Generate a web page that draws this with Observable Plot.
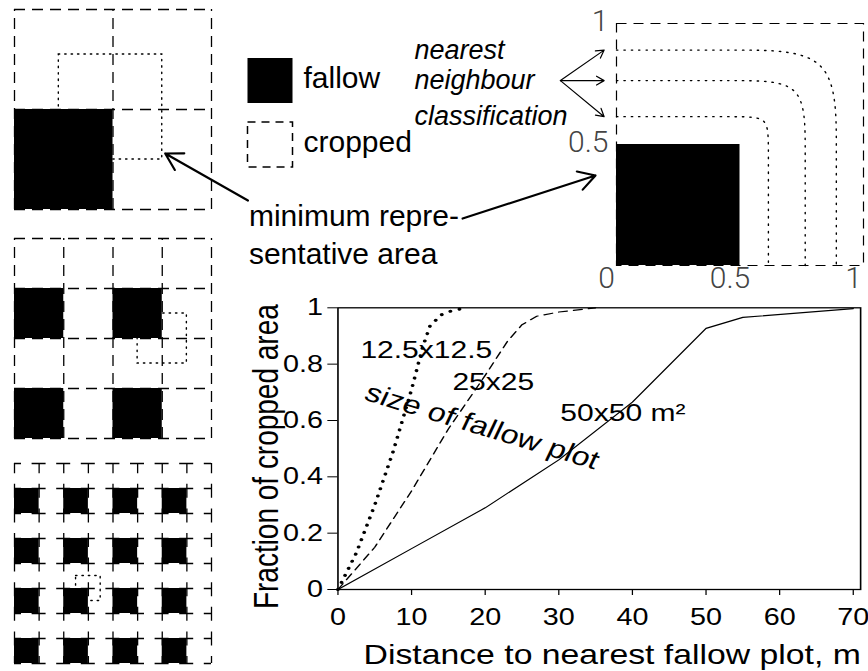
<!DOCTYPE html>
<html><head><meta charset="utf-8">
<script src="https://cdn.jsdelivr.net/npm/d3@7"></script>
<script src="https://cdn.jsdelivr.net/npm/@observablehq/plot@0.6"></script>
<style>
html,body{margin:0;padding:0;background:#fff;}
#fig{position:relative;width:868px;height:671px;overflow:hidden;background:#fff;}
.panel{position:absolute;}
</style></head><body><div id="fig"></div>
<script>
// ================= DATA =================
// main chart: fraction of cropped area vs distance to nearest fallow plot
const distance50 = [0, 10, 20, 30, 40, 50, 55, 70];
const fraction50 = [0, 0.145, 0.29, 0.46, 0.665, 0.927, 0.966, 0.997];
const distance25 = [0, 5, 10, 15, 20, 23, 25, 27, 30, 35];
const fraction25 = [0, 0.15, 0.35, 0.57, 0.76, 0.88, 0.94, 0.97, 0.985, 1];
const distance12 = [0, 2.5, 5, 7.5, 10, 11.5, 12.5, 14, 15.5, 17.5];
const fraction12 = [0, 0.13, 0.3, 0.49, 0.71, 0.86, 0.935, 0.975, 0.99, 1];
const plotSizeLabels = ["12.5x12.5", "25x25", "50x50 m²"];
const plotSizeLabelX = [12, 21.1, 38.7];
const plotSizeLabelY = [0.848, 0.734, 0.624];
const sizeNote = "size of fallow plot";
const sizeNoteX = 19.6, sizeNoteY = 0.578, sizeNoteAngle = 20.8;
const xTicks = [0, 10, 20, 30, 40, 50, 60, 70];
const yTicks = [0, 0.2, 0.4, 0.6, 0.8, 1];
const xTitle = "Distance to nearest fallow plot, m";
const yTitle = "Fraction of cropped area";

// left: field grids (cells in grid units, fallow cells as [col,row] from bottom-left)
const gridSizes = [2, 4, 8];
const gridLines = [[0, 1, 2], [0, 1, 2, 3, 4], [0, 1, 2, 3, 4, 5, 6, 7, 8]];
const fallowCells = [
  [[0, 0]],
  [[0, 0], [2, 0], [0, 2], [2, 2]],
  [[0, 0], [2, 0], [4, 0], [6, 0], [0, 2], [2, 2], [4, 2], [6, 2],
   [0, 4], [2, 4], [4, 4], [6, 4], [0, 6], [2, 6], [4, 6], [6, 6]]
];
const minAreas = [
  {x1: 0.45, x2: 1.5, y1: 0.5, y2: 1.55},
  {x1: 2.5, x2: 3.5, y1: 1.5, y2: 2.5},
  {x1: 2.5, x2: 3.5, y1: 2.5, y2: 3.5}
];
const minAreaText = ["minimum repre-", "sentative area"];
const minAreaTextY = [-0.16, -0.54];   // grid-1 units
const minAreaTextX = 2.38;
const minAreaArrowGrid = [{x1: 2.37, y1: 0.09, x2: 1.53, y2: 0.56}];

// legend
const legendItems = ["fallow", "cropped"];

// inset: unit square with fallow quarter and nearest-neighbour contours
const unitTicks = [0, 0.5, 1];
const insetYTicks = [0.5, 1];
const fallowSquare = [{x1: 0, x2: 0.5, y1: 0, y2: 0.5}];
const nnOffsets = [0.39, 0.264, 0.115];
const nnWords = ["nearest", "neighbour", "classification"];
const nnTextX = -0.818;
const nnArrowFrom = {x: -0.227, y: 0.764};
const nnArrowTipX = -0.05;
const minAreaArrowInset = [{x1: -0.623, y1: 0.194, x2: -0.085, y2: 0.372}];

// ================= HELPERS =================
const fig = document.getElementById("fig");
function place(node, left, top) {
  const wrap = document.createElement("div");
  wrap.className = "panel";
  wrap.style.left = left + "px";
  wrap.style.top = top + "px";
  wrap.appendChild(node);
  fig.appendChild(wrap);
}
const SANS = "'Liberation Sans', Arial, Helvetica, sans-serif";
const baseStyle = `background: transparent; overflow: visible; max-width: none; font-family: ${SANS}; color: black;`;

// ================= GRIDS =================
const gridTops = [0, 229, 454];
gridSizes.forEach((n, gi) => {
  const dash = gi === 2 ? "14,10.6" : "11,7";
  const offset = gi === 2 ? 7 : 0;
  const marks = [
    Plot.ruleX(gridLines[gi], {x: d => d, y1: 0, y2: n, stroke: "black", strokeWidth: 1.3, strokeDasharray: dash, strokeDashoffset: offset}),
    Plot.ruleY(gridLines[gi], {y: d => d, x1: 0, x2: n, stroke: "black", strokeWidth: 1.3, strokeDasharray: dash, strokeDashoffset: offset}),
    Plot.rect([minAreas[gi]], {x1: "x1", x2: "x2", y1: "y1", y2: "y2", fill: "none", stroke: "black", strokeWidth: 1.4, strokeDasharray: "1.4,5", strokeLinecap: "round"}),
    Plot.rect(fallowCells[gi], {x1: d => d[0], x2: d => d[0] + 1, y1: d => d[1], y2: d => d[1] + 1, fill: "black"})
  ];
  if (gi === 0) {
    marks.push(
      Plot.arrow(minAreaArrowGrid, {x1: "x1", y1: "y1", x2: "x2", y2: "y2", stroke: "black", strokeWidth: 2.2, headLength: 13, clip: false}),
      Plot.text(minAreaText, {x: minAreaTextX, y: (d, i) => minAreaTextY[i], text: d => d, textAnchor: "start", lineAnchor: "bottom", fontSize: 30, fill: "black", clip: false})
    );
  }
  const svg = Plot.plot({
    width: 260, height: 215,
    marginLeft: 14, marginRight: 49, marginTop: 9, marginBottom: 6,
    x: {domain: [0, n], axis: null},
    y: {domain: [0, n], axis: null},
    style: baseStyle,
    marks
  });
  place(svg, 0, gridTops[gi]);
});

// ================= LEGEND =================
{
  const svg = Plot.plot({
    width: 200, height: 150,
    marginLeft: 39.5, marginRight: 10, marginTop: 40, marginBottom: 46,
    x: {domain: [0, 1], axis: null},
    y: {type: "point", domain: legendItems, axis: null, padding: 0},
    style: baseStyle,
    marks: [
      Plot.dot(["fallow"], {x: 0, y: d => d, symbol: "square", r: 25.4, fill: "black"}),
      Plot.dot(["cropped"], {x: 0, y: d => d, symbol: "square", r: 25.4, fill: "white", stroke: "black", strokeWidth: 1.5, strokeDasharray: "8,6"}),
      Plot.text(legendItems, {x: 0, y: d => d, text: d => d, dx: 33.5, dy: -2, textAnchor: "start", lineAnchor: "middle", fontSize: 30, fill: "black"})
    ]
  });
  place(svg, 230, 40);
}

// ================= INSET =================
{
  const contourPts = nnOffsets.flatMap((d, k) => [
    {k, x: 0, y: 0.5 + d}, {k, x: 0.5, y: 0.5 + d}, {k, x: 0.5 + d, y: 0.5 + d},
    {k, x: 0.5 + d, y: 0.5}, {k, x: 0.5 + d, y: 0}
  ]);
  const tickFont = {fontFamily: `Roboto, ${SANS}`, fontSize: 30, fontWeight: 300, fill: "#444"};
  const svg = Plot.plot({
    width: 468, height: 300,
    marginLeft: 216, marginRight: 5, marginTop: 23, marginBottom: 35,
    x: {domain: [0, 1], axis: null},
    y: {domain: [0, 1], axis: null},
    style: baseStyle,
    marks: [
      Plot.frame({stroke: "black", strokeWidth: 1.2, strokeDasharray: "10,7"}),
      Plot.line(contourPts, {x: "x", y: "y", z: "k", curve: "basis", stroke: "black", strokeWidth: 1.4, strokeDasharray: "1.4,6", strokeLinecap: "round"}),
      Plot.rect(fallowSquare, {x1: "x1", x2: "x2", y1: "y1", y2: "y2", fill: "black"}),
      Plot.text(unitTicks, {x: d => d, text: d => String(d), frameAnchor: "bottom", lineAnchor: "top", dy: 1, dx: -10, ...tickFont, clip: false}),
      Plot.text(insetYTicks, {y: d => d, text: d => String(d), frameAnchor: "left", textAnchor: "end", lineAnchor: "middle", dx: -8, dy: -2, ...tickFont, clip: false}),
      Plot.arrow(nnOffsets, {x1: nnArrowFrom.x, y1: nnArrowFrom.y, x2: nnArrowTipX, y2: d => 0.5 + d, stroke: "black", strokeWidth: 1.2, headLength: 11, clip: false}),
      Plot.text(nnWords, {x: nnTextX, y: (d, i) => 0.5 + nnOffsets[i], text: d => d, textAnchor: "start", lineAnchor: "middle", fontSize: 27, fontStyle: "italic", fill: "black", clip: false}),
      Plot.arrow(minAreaArrowInset, {x1: "x1", y1: "y1", x2: "x2", y2: "y2", stroke: "black", strokeWidth: 2.2, headLength: 13, clip: false})
    ]
  });
  place(svg, 400, 0);
}

// ================= MAIN CHART =================
{
  const rows = (xs, ys) => xs.map((x, i) => ({x, y: ys[i]}));
  const W = 510, H = 381, SCREEN_W = 638;
  const svg = Plot.plot({
    width: W, height: H,
    marginLeft: 85.8, marginRight: 6.4, marginTop: 17.3, marginBottom: 82,
    x: {domain: [0, 71], ticks: xTicks, tickSize: 6, tickPadding: 14, tickFormat: () => "", label: null},
    y: {domain: [0, 1], ticks: yTicks, tickSize: 8, tickPadding: 4, tickFormat: () => "", label: null},
    style: baseStyle,
    marks: [
      Plot.frame({stroke: "black", strokeWidth: 1.3}),
      Plot.text(xTicks, {x: d => d, text: d => String(d), frameAnchor: "bottom", lineAnchor: "top", dy: 19, fontSize: 23, fill: "black"}),
      Plot.text(yTicks, {y: d => d, text: d => String(d), frameAnchor: "left", textAnchor: "end", lineAnchor: "middle", dx: -12, fontSize: 23, fill: "black"}),
      Plot.line(rows(distance50, fraction50), {x: "x", y: "y", stroke: "black", strokeWidth: 1.1}),
      Plot.line(rows(distance25, fraction25), {x: "x", y: "y", stroke: "black", strokeWidth: 1.2, strokeDasharray: "7,5"}),
      Plot.line(rows(distance12, fraction12), {x: "x", y: "y", stroke: "black", strokeWidth: 3, strokeDasharray: "0.1,7.5", strokeLinecap: "round"}),
      Plot.text(plotSizeLabels, {x: (d, i) => plotSizeLabelX[i], y: (d, i) => plotSizeLabelY[i], text: d => d, fontSize: 24, lineAnchor: "middle", fill: "black"}),
      Plot.text([sizeNote], {x: sizeNoteX, y: sizeNoteY, text: d => d, rotate: sizeNoteAngle, fontSize: 26, lineAnchor: "middle", fill: "black"}),
      Plot.text([xTitle], {frameAnchor: "bottom", text: d => d, dx: 10.3, dy: 66, textAnchor: "middle", lineAnchor: "middle", fontSize: 27, fill: "black"}),
      Plot.text([yTitle], {frameAnchor: "left", text: d => d, rotate: -90, dx: -57, dy: 8, textAnchor: "middle", lineAnchor: "middle", fontSize: 28, fill: "black"})
    ]
  });
  svg.setAttribute("width", SCREEN_W);
  svg.setAttribute("preserveAspectRatio", "none");
  svg.style.width = SCREEN_W + "px";
  svg.style.height = H + "px";
  place(svg, 230, 290);
}
</script>
</body></html>
